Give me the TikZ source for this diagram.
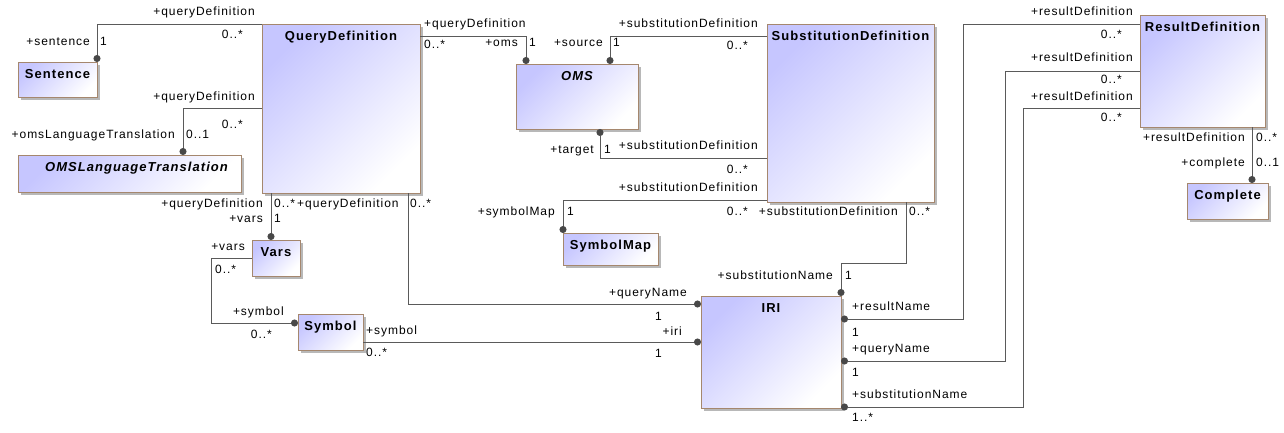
\documentclass[tikz,border=0pt]{standalone}
\usepackage{fontspec}
\setmainfont{Liberation Sans}[LetterSpace=8]
\usetikzlibrary{arrows.meta,calc,shadows}
\definecolor{clsA}{RGB}{198,198,255}
\definecolor{clsBorder}{RGB}{165,135,110}
\definecolor{lineC}{RGB}{90,90,90}
\definecolor{dotC}{RGB}{72,72,72}
\tikzset{
 cls/.style={draw=clsBorder, line width=1pt, inner sep=0pt, outer sep=0pt, anchor=north west,
   top color=clsA, bottom color=white, shading angle=45,
   drop shadow={shadow xshift=3pt, shadow yshift=-3pt, fill=black!28, opacity=1}},
 clsname/.style={anchor=base, inner sep=0pt, font=\fontsize{13}{15}\selectfont\bfseries},
 absname/.style={anchor=base, inner sep=0pt, font=\fontsize{13}{15}\selectfont\bfseries\itshape},
 conn/.style={draw=lineC, line width=1pt},
 own/.style={conn, -{Circle[length=7pt,width=7pt,color=dotC]}},
 lbl/.style={inner sep=0pt, font=\fontsize{12}{14}\selectfont, text height=9pt, text depth=2.5pt, text=black},
 lw/.style={lbl, anchor=west},
 le/.style={lbl, anchor=east},
}
\begin{document}
\begin{tikzpicture}[x=1pt,y=-1pt]
\useasboundingbox (0,0) rectangle (1284,432);
\fill[white] (0,0) rectangle (1284,432);

% classes
\node[cls, minimum width=79pt, minimum height=35pt] (Sent) at (18,62) {};
\node[cls, minimum width=223pt, minimum height=37pt] (OMSLT) at (18,155) {};
\node[cls, minimum width=158pt, minimum height=169pt] (QD) at (262,24) {};
\node[cls, minimum width=122pt, minimum height=65pt] (OMS) at (516,64) {};
\node[cls, minimum width=167pt, minimum height=178pt] (SD) at (767,24) {};
\node[cls, minimum width=125pt, minimum height=112pt] (RD) at (1140,15) {};
\node[cls, minimum width=81pt, minimum height=36pt] (Comp) at (1187,183) {};
\node[cls, minimum width=48pt, minimum height=36pt] (Vars) at (252,240) {};
\node[cls, minimum width=65pt, minimum height=36pt] (Sym) at (298,314) {};
\node[cls, minimum width=95pt, minimum height=32pt] (SMap) at (563,233) {};
\node[cls, minimum width=140pt, minimum height=112pt] (IRI) at (701,296) {};

% class names
\node[clsname] (SentN) at ($(Sent.north)+(0,16)$) {Sentence};
\node[absname] (OMSLTN) at ($(OMSLT.north)+(7,16)$) {OMSLanguageTranslation};
\node[clsname] (QDN) at ($(QD.north)+(0,16)$) {QueryDefinition};
\node[absname] (OMSN) at ($(OMS.north)+(0,16)$) {OMS};
\node[clsname] (SDN) at ($(SD.north)+(0,16)$) {SubstitutionDefinition};
\node[clsname] (RDN) at ($(RD.north)+(0,16)$) {ResultDefinition};
\node[clsname] (CompN) at ($(Comp.north)+(0,16)$) {Complete};
\node[clsname] (VarsN) at ($(Vars.north)+(0,16)$) {Vars};
\node[clsname] (SymN) at ($(Sym.north)+(0,16)$) {Symbol};
\node[clsname] (SMapN) at ($(SMap.north)+(0,16)$) {SymbolMap};
\node[clsname] (IRIN) at ($(IRI.north)+(0,16)$) {IRI};

% connectors
\draw[own] (QD.north west) -| (Sent.north east);
\draw[own] ($(QD.north west)+(0,84)$) -| ($(OMSLT.north west)+(165,0)$);
\draw[own] ($(QD.north east)+(0,12)$) -| ($(OMS.north west)+(10,0)$);
\draw[own] ($(SD.north west)+(0,12)$) -| ($(OMS.north west)+(94,0)$);
\draw[own] ($(SD.north west)+(0,134)$) -| ($(OMS.south west)+(84,0)$);
\draw[own] ($(SD.north west)+(0,176)$) -| (SMap.north west);
\draw[own] ($(SD.south west)+(139,0)$) |- ($(IRI.north east)+(0,-33)$) -- (IRI.north east);
\draw[own] ($(QD.south west)+(9,0)$) -- ($(Vars.north west)+(19,0)$);
\draw[own] ($(QD.south west)+(146,0)$) |- ($(IRI.north west)+(0,8)$);
\draw[own] ($(Vars.north west)+(0,18)$) -- ++(-41,0) |- ($(Sym.north west)+(0,9)$);
\draw[own] ($(Sym.north east)+(0,28)$) -- ($(IRI.north west)+(0,46)$);
\draw[own] ($(RD.north west)+(0,9)$) -| ($(IRI.north east)+(122,23)$) -- ($(IRI.north east)+(0,23)$);
\draw[own] ($(RD.north west)+(0,56)$) -| ($(IRI.north east)+(164,65)$) -- ($(IRI.north east)+(0,65)$);
\draw[own] ($(RD.north west)+(0,93)$) -| ($(IRI.north east)+(182,111)$) -- ($(IRI.north east)+(0,111)$);
\draw[own] ($(RD.south west)+(112,0)$) -- ($(Comp.north west)+(65,0)$);

% labels: QD - Sentence
\node[le] (a1) at (255,12) {+queryDefinition};
\node[le] (a2) at (243,35) {0..*};
\node[le] (a3) at (90,42) {+sentence};
\node[lw] (a4) at (100,42) {1};
% QD - OMSLT
\node[le] (b1) at (255,97) {+queryDefinition};
\node[le] (b2) at (243,125) {0..*};
\node[le] (b3) at (175,135) {+omsLanguageTranslation};
\node[lw] (b4) at (186,135) {0..1};
% QD - OMS
\node[lw] (c1) at (424,24) {+queryDefinition};
\node[lw] (c2) at (424,45) {0..*};
\node[le] (c3) at (518,43) {+oms};
\node[lw] (c4) at (529,43) {1};
% SD - OMS source
\node[le] (d1) at (758,24) {+substitutionDefinition};
\node[le] (d2) at (748,46) {0..*};
\node[le] (d3) at (603,43) {+source};
\node[lw] (d4) at (613,43) {1};
% SD - OMS target
\node[le] (e1) at (594,150) {+target};
\node[lw] (e2) at (604,150) {1};
\node[le] (e3) at (758,146) {+substitutionDefinition};
\node[le] (e4) at (748,170) {0..*};
% SD - SymbolMap
\node[le] (f1) at (758,188) {+substitutionDefinition};
\node[le] (f2) at (748,212) {0..*};
\node[le] (f3) at (555,212) {+symbolMap};
\node[lw] (f4) at (567,212) {1};
% SD - IRI
\node[le] (g1) at (898,212) {+substitutionDefinition};
\node[lw] (g2) at (909,212) {0..*};
\node[le] (g3) at (833,276) {+substitutionName};
\node[lw] (g4) at (845,276) {1};
% QD - Vars
\node[le] (h1) at (263,204) {+queryDefinition};
\node[lw] (h2) at (274,204) {0..*};
\node[le] (h3) at (263,219) {+vars};
\node[lw] (h4) at (274,219) {1};
% QD - IRI
\node[lw] (i1) at (297,204) {+queryDefinition};
\node[lw] (i2) at (410,204) {0..*};
\node[le] (i3) at (687,293) {+queryName};
\node[le] (i4) at (662,317) {1};
% Vars - Symbol
\node[le] (j1) at (245,247) {+vars};
\node[lw] (j2) at (215,270) {0..*};
\node[le] (j3) at (284,312) {+symbol};
\node[le] (j4) at (272,335) {0..*};
% Symbol - IRI
\node[lw] (k1) at (366,331) {+symbol};
\node[lw] (k2) at (366,353) {0..*};
\node[le] (k3) at (682,332) {+iri};
\node[le] (k4) at (662,354) {1};
% RD - IRI resultName
\node[le] (m1) at (1133,12) {+resultDefinition};
\node[le] (m2) at (1122,35) {0..*};
\node[lw] (m3) at (852,307) {+resultName};
\node[lw] (m4) at (852,333) {1};
% RD - IRI queryName
\node[le] (n1) at (1133,58) {+resultDefinition};
\node[le] (n2) at (1122,80) {0..*};
\node[lw] (n3) at (852,349) {+queryName};
\node[lw] (n4) at (852,373) {1};
% RD - IRI substitutionName
\node[le] (o1) at (1133,97) {+resultDefinition};
\node[le] (o2) at (1122,118) {0..*};
\node[lw] (o3) at (852,395) {+substitutionName};
\node[lw] (o4) at (852,418) {1..*};
% RD - Complete
\node[le] (p1) at (1245,138) {+resultDefinition};
\node[lw] (p2) at (1256,138) {0..*};
\node[le] (p3) at (1245,163) {+complete};
\node[lw] (p4) at (1256,163) {0..1};
\end{tikzpicture}
\end{document}
